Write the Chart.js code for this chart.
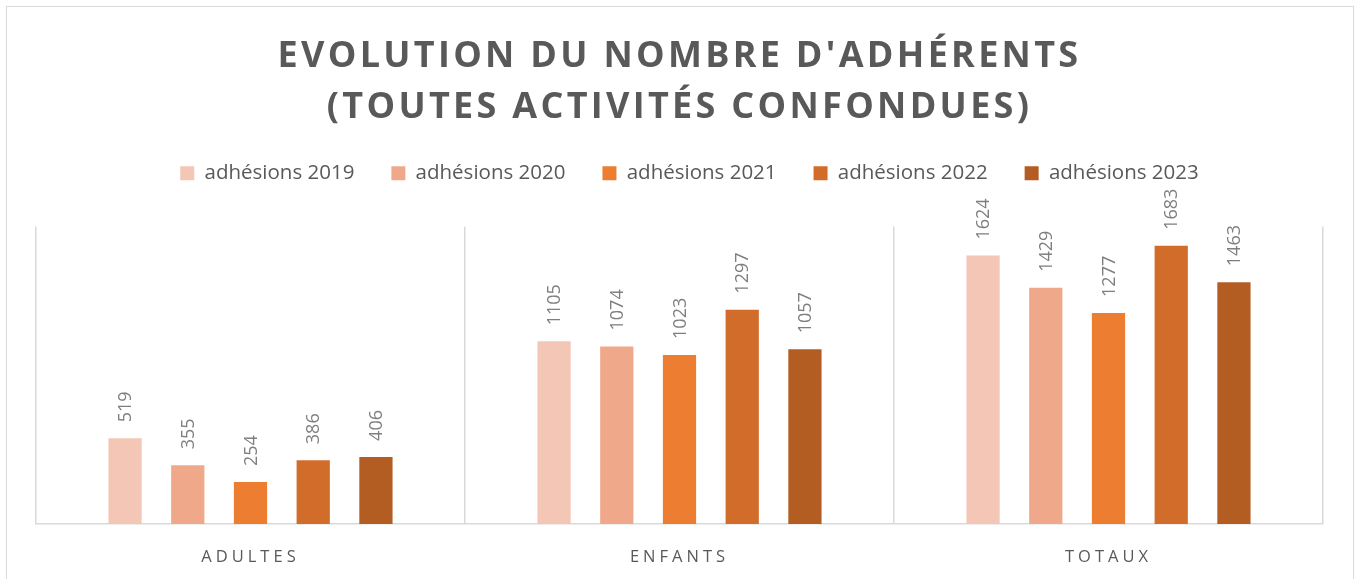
<!DOCTYPE html>
<html lang="fr">
<head>
<meta charset="utf-8">
<title>Evolution du nombre d'adhérents</title>
<script src="https://cdn.jsdelivr.net/npm/chart.js@4.4.1/dist/chart.umd.min.js"></script>
<style>
    html, body {
        margin: 0;
        padding: 0;
        background: #FFFFFF;
        overflow: hidden;
    }
    .frame {
        position: absolute;
        left: 6px;
        top: 6px;
        width: 1346px;
        height: 640px;
        border: 1px solid #D9D9D9;
    }
    .chart-box {
        position: absolute;
        left: 0;
        top: 0;
        width: 1359px;
        height: 579px;
    }
</style>
</head>
<body>
<div class="frame"></div>
<div class="chart-box">
    <canvas id="adherentsChart"></canvas>
</div>
<script>
/*
  Evolution du nombre d'adhérents
  (toutes activités confondues)
*/

const titleLines = ["EVOLUTION DU NOMBRE D'ADHÉRENTS", "(TOUTES ACTIVITÉS CONFONDUES)"];

const categories = ["ADULTES", "ENFANTS", "TOTAUX"];

const seriesLabels = ["adhésions 2019", "adhésions 2020", "adhésions 2021", "adhésions 2022", "adhésions 2023"];

const adhesions2019 = [519, 1105, 1624];
const adhesions2020 = [355, 1074, 1429];
const adhesions2021 = [254, 1023, 1277];
const adhesions2022 = [386, 1297, 1683];
const adhesions2023 = [406, 1057, 1463];

const yMax = 1800;

const seriesColors = ["#F4C6B6", "#F0A88B", "#ED7D31", "#D26C2A", "#B45D22"];

const TEXT_DARK = "#595959";
const TEXT_VALUE = "#7F7F7F";
const GRID = "#D9D9D9";

// extra room between the legend and the plot
const LEGEND_EXTRA = 33;
// the legend sits a little right of centre
const LEGEND_SHIFT = 10;

document.addEventListener("DOMContentLoaded", () => {

    initializeChart();

});

// letter-spaced text (title + category names), drawn after everything else
const spacedTextPlugin = {
    id: "spacedText",
    afterDraw(chart) {
        const ctx = chart.ctx;
        const xScale = chart.scales.x;
        const centerX = (chart.chartArea.left + chart.chartArea.right) / 2;

        ctx.save();
        ctx.textAlign = "center";
        ctx.textBaseline = "alphabetic";

        ctx.fillStyle = TEXT_DARK;
        ctx.font = "bold 36px 'Open Sans'";
        ctx.letterSpacing = "3.3px";
        ctx.fillText(titleLines[0], centerX, 67);
        ctx.fillText(titleLines[1], centerX, 118);

        ctx.font = "16.5px 'Open Sans'";
        ctx.letterSpacing = "4px";
        categories.forEach((name, i) => {
            ctx.fillText(name, xScale.getPixelForValue(i), 562);
        });

        ctx.restore();
    }
};

// rotated value labels above the bars
const valueLabelPlugin = {
    id: "valueLabels",
    afterDatasetsDraw(chart) {
        const ctx = chart.ctx;

        ctx.save();
        ctx.fillStyle = TEXT_VALUE;
        ctx.font = "18px 'Open Sans'";
        ctx.textAlign = "left";
        ctx.textBaseline = "middle";

        chart.data.datasets.forEach((dataset, di) => {
            const meta = chart.getDatasetMeta(di);
            meta.data.forEach((bar, i) => {
                ctx.save();
                ctx.translate(bar.x + 1, bar.y - 16);
                ctx.rotate(-Math.PI / 2);
                ctx.fillText(String(dataset.data[i]), 0, 0);
                ctx.restore();
            });
        });

        ctx.restore();
    }
};

// push the plot down below the legend, nudge the legend right
const legendSpacePlugin = {
    id: "legendSpace",
    beforeLayout(chart) {
        const legend = chart.legend;
        if (!legend || legend._spacePatched) {
            return;
        }
        const fit = legend.fit;
        legend.fit = function () {
            fit.call(this);
            this.height += LEGEND_EXTRA;
        };
        legend._spacePatched = true;
    },
    afterLayout(chart) {
        const legend = chart.legend;
        if (legend) {
            legend.left += LEGEND_SHIFT;
            legend.right += LEGEND_SHIFT;
        }
    }
};

function initializeChart() {

    const canvas = document.getElementById("adherentsChart");

    if (!canvas) {
        return;
    }

    const seriesValues = [adhesions2019, adhesions2020, adhesions2021, adhesions2022, adhesions2023];

    new Chart(canvas, {
        type: "bar",
        data: {
            labels: categories,
            datasets: seriesLabels.map((label, i) => ({
                label: label,
                data: seriesValues[i],
                backgroundColor: seriesColors[i],
                borderWidth: 0,
                categoryPercentage: 0.731,
                barPercentage: 0.53
            }))
        },
        options: {
            responsive: true,
            maintainAspectRatio: false,
            animation: false,
            layout: {
                padding: {
                    left: 36,
                    right: 36,
                    top: 126,
                    bottom: 55
                }
            },
            plugins: {
                title: {
                    display: false
                },
                tooltip: {
                    enabled: false
                },
                legend: {
                    position: "top",
                    labels: {
                        boxWidth: 14,
                        boxHeight: 14,
                        padding: 37,
                        color: TEXT_DARK,
                        font: {
                            family: "'Open Sans'",
                            size: 20.5
                        }
                    }
                }
            },
            scales: {
                x: {
                    grid: {
                        display: true,
                        offset: true,
                        color: GRID,
                        lineWidth: 1.5,
                        drawTicks: false
                    },
                    border: {
                        display: true,
                        color: GRID,
                        width: 1.5
                    },
                    ticks: {
                        display: false
                    }
                },
                y: {
                    display: false,
                    min: 0,
                    max: yMax
                }
            }
        },
        plugins: [legendSpacePlugin, valueLabelPlugin, spacedTextPlugin]
    });

}
</script>
</body>
</html>
